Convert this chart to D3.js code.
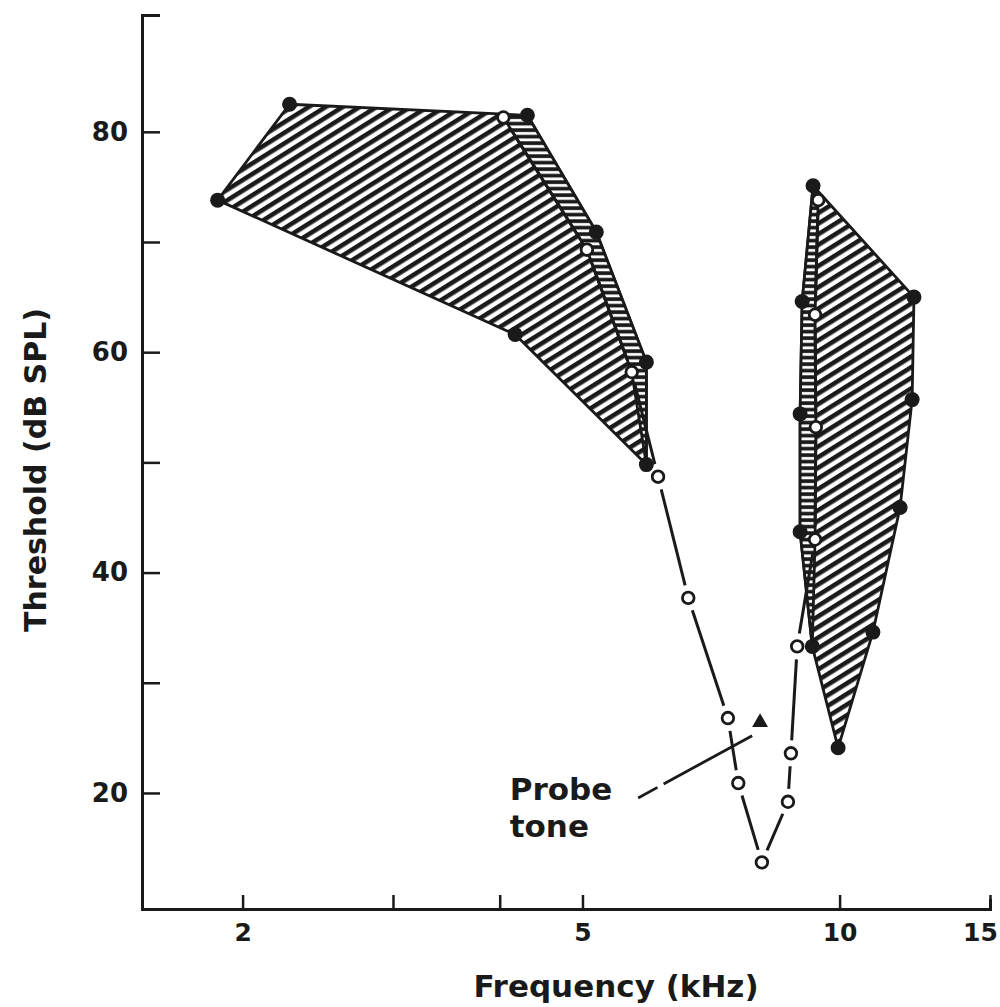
<!DOCTYPE html>
<html lang="en">
<head>
<meta charset="utf-8">
<script src="https://cdn.jsdelivr.net/npm/d3@7"></script>
<style>
  body { margin: 0; background: #fff; }
  svg text { font-family: "DejaVu Sans", sans-serif; font-weight: bold; fill: #1a1a1a; }
</style>
</head>
<body>
<div id="chart"></div>
<script>
// Frequency in kHz, threshold in dB SPL
// excitatory tuning curve (open circles)
const tuningFreq = [4.04, 5.06, 5.71, 6.13, 6.65, 7.40, 7.61, 8.11, 8.70, 8.77, 8.92, 9.36, 9.38, 9.36, 9.44];
const tuningDb   = [81.3, 69.3, 58.2, 48.7, 37.7, 26.8, 20.9, 13.7, 19.2, 23.6, 33.3, 43.0, 53.2, 63.4, 73.8];

// low-frequency suppression area (filled circles, outline order)
const lowSuppFreq = [1.87, 2.27, 4.31, 5.19, 5.94, 5.94, 4.17];
const lowSuppDb   = [73.8, 82.5, 81.5, 70.9, 59.1, 49.8, 61.6];

// high-frequency suppression area (filled circles, outline order)
const highSuppFreq = [9.31, 12.22, 12.16, 11.77, 10.94, 9.96, 9.29, 8.99, 8.99, 9.04];
const highSuppDb   = [75.1, 65.0, 55.7, 45.9, 34.6, 24.1, 33.3, 43.7, 54.4, 64.6];

// probe tone and its label
const probeFreq = 8.07, probeDb = 26.4;
const leaderFreq = [5.81, 7.90];
const leaderDb = [19.55, 25.2];
const probeLabelFreq = 4.11, probeLabelDb = 19.4;

const xTicks = [2, 3, 4, 5, 10, 15];
const xTickLabels = {2: "2", 5: "5", 10: "10", 15: "15"};
const yTicks = [20, 30, 40, 50, 60, 70, 80];
const yTickLabels = {20: "20", 40: "40", 60: "60", 80: "80"};

const width = 1000, height = 1007;
const margin = {top: 15, right: 10, bottom: 98, left: 142};
const ink = "#1a1a1a";

const svg = d3.select("#chart").append("svg")
    .attr("width", width)
    .attr("height", height);

const x = d3.scaleLog().domain([1.525, 15]).range([margin.left, width - margin.right]);
const y = d3.scaleLinear().domain([9.47, 90.6]).range([height - margin.bottom, margin.top]);

// hatch patterns
const defs = svg.append("defs");
defs.append("pattern")
    .attr("id", "hatch")
    .attr("patternUnits", "userSpaceOnUse")
    .attr("width", 9).attr("height", 9)
    .attr("patternTransform", "rotate(-32)")
  .append("rect")
    .attr("width", 9).attr("height", 4.6)
    .attr("fill", ink);

const ladder = defs.append("pattern")
    .attr("id", "ladder")
    .attr("patternUnits", "userSpaceOnUse")
    .attr("width", 20).attr("height", 6.5);
ladder.append("rect").attr("width", 20).attr("height", 6.5).attr("fill", ink);
ladder.append("rect").attr("y", 2).attr("width", 20).attr("height", 2.8).attr("fill", "#fff");

const pts = (fs, ds) => fs.map((f, i) => [x(f), y(ds[i])]);
const tuning = pts(tuningFreq, tuningDb);
const lowSupp = pts(lowSuppFreq, lowSuppDb);
const highSupp = pts(highSuppFreq, highSuppDb);
const closed = p => d3.line()(p) + "Z";

// suppression areas
const areas = svg.append("g");
[lowSupp, highSupp].forEach(p => {
    areas.append("path")
        .attr("d", closed(p))
        .attr("fill", "url(#hatch)")
        .attr("stroke", ink)
        .attr("stroke-width", 2.8)
        .attr("stroke-linejoin", "round");
});

// narrow strips between tuning curve and suppression boundary
const lowStrip = [tuning[0], tuning[1], tuning[2], lowSupp[5], lowSupp[4], lowSupp[3], lowSupp[2]];
const highStrip = [highSupp[0], highSupp[9], highSupp[8], highSupp[7], highSupp[6],
                   tuning[11], tuning[12], tuning[13], tuning[14]];
[lowStrip, highStrip].forEach(p => {
    areas.append("path")
        .attr("d", closed(p))
        .attr("fill", "url(#ladder)")
        .attr("stroke", ink)
        .attr("stroke-width", 2.8)
        .attr("stroke-linejoin", "round");
});

// axes
const yAxis = d3.axisLeft(y)
    .tickValues(yTicks)
    .tickSize(-18)
    .tickSizeOuter(-18)
    .tickPadding(14)
    .tickFormat(d => yTickLabels[d] || "");
const gy = svg.append("g")
    .attr("transform", `translate(${margin.left},0)`)
    .call(yAxis);
gy.selectAll("text").style("font-size", "26px");

const xAxis = d3.axisBottom(x)
    .tickValues(xTicks)
    .tickSize(-14)
    .tickSizeOuter(-10)
    .tickPadding(14)
    .tickFormat(d => xTickLabels[d] || "");
const gx = svg.append("g")
    .attr("transform", `translate(0,${height - margin.bottom})`)
    .call(xAxis);
gx.selectAll("text").style("font-size", "25px");
gx.selectAll(".tick").filter(d => d === 15).select("text").attr("dx", -10);

[gx, gy].forEach(g => {
    g.select(".domain").attr("stroke", ink).attr("stroke-width", 3);
    g.selectAll(".tick line").attr("stroke", ink).attr("stroke-width", 2.5);
});

// tuning curve: line segments broken around the circles
const gap = 13;
const segs = d3.pairs(tuning).map(([a, b]) => {
    const dx = b[0] - a[0], dy = b[1] - a[1];
    const len = Math.hypot(dx, dy);
    const g = Math.min(gap, len / 2 - 3);
    return [a[0] + dx / len * g, a[1] + dy / len * g, b[0] - dx / len * g, b[1] - dy / len * g];
});
svg.append("g")
    .selectAll("line")
    .data(segs)
    .enter().append("line")
    .attr("x1", d => d[0]).attr("y1", d => d[1])
    .attr("x2", d => d[2]).attr("y2", d => d[3])
    .attr("stroke", ink)
    .attr("stroke-width", 3);

svg.append("g")
    .selectAll("circle")
    .data(tuning)
    .enter().append("circle")
    .attr("cx", d => d[0])
    .attr("cy", d => d[1])
    .attr("r", 5.8)
    .attr("fill", "#fff")
    .attr("stroke", ink)
    .attr("stroke-width", 2.8);

svg.append("g")
    .selectAll("circle")
    .data(lowSupp.concat(highSupp))
    .enter().append("circle")
    .attr("cx", d => d[0])
    .attr("cy", d => d[1])
    .attr("r", 7.5)
    .attr("fill", ink);

// probe tone
svg.append("path")
    .attr("d", d3.symbol(d3.symbolTriangle).size(110)())
    .attr("transform", `translate(${x(probeFreq)},${y(probeDb)})`)
    .attr("fill", ink);

svg.append("line")
    .attr("x1", x(leaderFreq[0])).attr("y1", y(leaderDb[0]))
    .attr("x2", x(leaderFreq[1])).attr("y2", y(leaderDb[1]))
    .attr("stroke", ink)
    .attr("stroke-width", 2.8)
    .attr("stroke-dasharray", "22,7,300");

const probeLabel = svg.append("text")
    .attr("x", x(probeLabelFreq))
    .attr("y", y(probeLabelDb))
    .style("font-size", "31px");
probeLabel.append("tspan").text("Probe");
probeLabel.append("tspan")
    .attr("x", x(probeLabelFreq))
    .attr("dy", 37)
    .text("tone");

// axis titles
svg.append("text")
    .attr("x", 616)
    .attr("y", 997)
    .attr("text-anchor", "middle")
    .style("font-size", "31px")
    .text("Frequency (kHz)");

svg.append("text")
    .attr("transform", "translate(46,470) rotate(-90)")
    .attr("text-anchor", "middle")
    .style("font-size", "30px")
    .text("Threshold (dB SPL)");
</script>
</body>
</html>
